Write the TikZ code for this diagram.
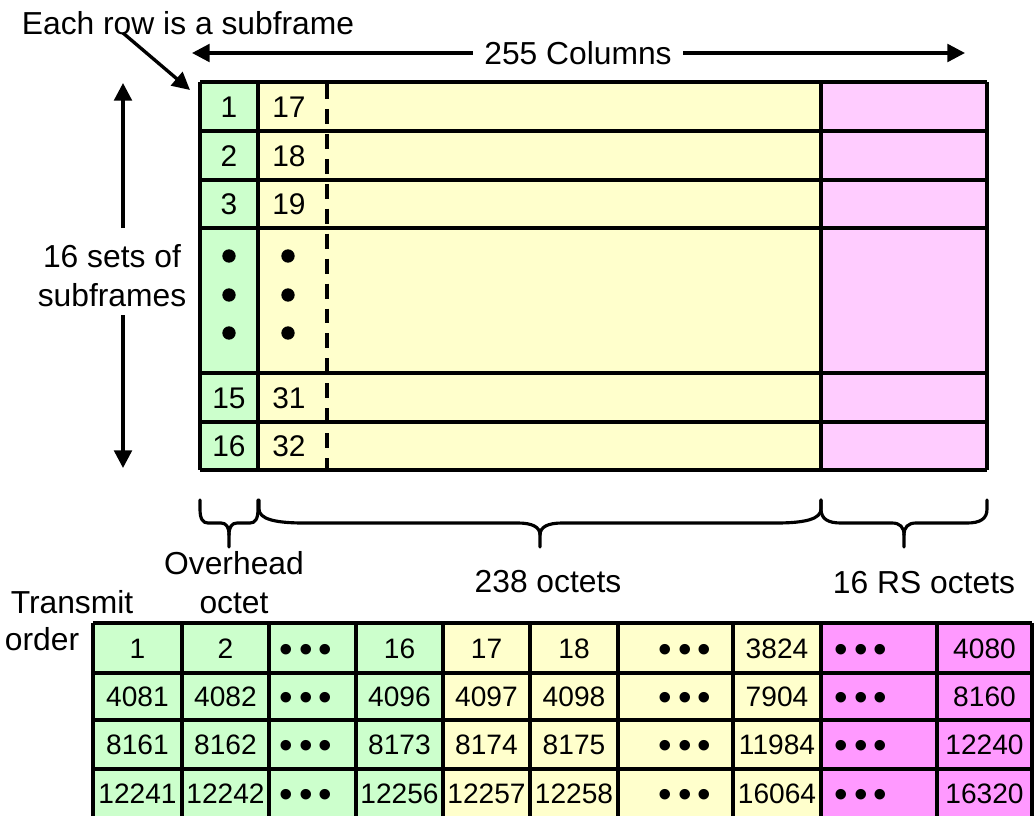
\documentclass[tikz,border=0pt]{standalone}
\usepackage{fontspec}
\setmainfont{Liberation Sans}
\usetikzlibrary{arrows.meta}
\definecolor{ohgreen}{HTML}{CCFFCC}
\definecolor{payyellow}{HTML}{FFFFCC}
\definecolor{rspink}{HTML}{FFCCFF}
\definecolor{rsmagenta}{HTML}{FF99FF}

% curly brace under the frame: left x, right x, end radius, tip radius
\newcommand{\octbrace}[4]{%
  \pgfmathsetmacro{\bracemid}{(#1+#2)/2}
  \draw[bracepath] (#1,500) -- (#1,509) .. controls (#1,519) and (#1+0.35*#3,523) .. (#1+#3,523)
    -- (\bracemid-#4,523) .. controls (\bracemid-0.35*#4,523) and (\bracemid,527) .. (\bracemid,535) -- (\bracemid,547);
  \draw[bracepath] (#2,500) -- (#2,509) .. controls (#2,519) and (#2-0.35*#3,523) .. (#2-#3,523)
    -- (\bracemid+#4,523) .. controls (\bracemid+0.35*#4,523) and (\bracemid,527) .. (\bracemid,535);
}
\newcommand{\threedots}{•\hspace{3.4pt}•\hspace{3.4pt}•}

\begin{document}
\begin{tikzpicture}[x=0.02cm, y=-0.02cm,
  gridline/.style={line width=2pt},
  bracepath/.style={line width=1.8pt, line cap=round},
  arr/.style={line width=1.9pt, -{Triangle[length=10pt,width=10pt]}},
  lbl/.style={font=\fontsize{18.1}{22}\selectfont, inner sep=0pt, align=center},
  topnum/.style={font=\fontsize{17}{17}\selectfont, inner sep=0pt, text height=12.2pt, text depth=0pt},
  cellnum/.style={font=\fontsize{16}{16}\selectfont, inner sep=0pt, text height=11.5pt, text depth=0pt},
  vdot/.style={circle, fill=black, inner sep=0pt, minimum size=7.6pt},
  celldots/.style={font=\fontsize{22}{22}\selectfont, inner sep=0pt}]
  \path[use as bounding box] (0,0) rectangle (1034,815);
  \clip (0,0) rectangle (1034,815);

  % subframe matrix
  \fill[ohgreen] (200,82) rectangle (258,470);
  \fill[payyellow] (258,82) rectangle (821,470);
  \fill[rspink] (821,82) rectangle (987,470);
  \foreach \y in {82,131,180,228,373,422,470}
    \draw[gridline] (200,\y) -- (987,\y);
  \foreach \x in {200,258,821,987}
    \draw[gridline] (\x,82) -- (\x,470);
  \draw[gridline, dash pattern=on 8.5pt off 5.7pt] (327,84) -- (327,470);

  \foreach \yc/\a/\b [count=\i] in {106.5/1/17, 155.5/2/18, 204/3/19, 397.5/15/31, 446/16/32} {
    \node[topnum] (oh\i) at (229,\yc) {\a};
    \node[topnum] (pl\i) at (289,\yc) {\b};
  }
  \foreach \yc [count=\i] in {256,295,333} {
    \node[vdot] (ohdot\i) at (229,\yc) {};
    \node[vdot] (pldot\i) at (288,\yc) {};
  }

  % labels and arrows
  \node[lbl] (note) at (188,23) {Each row is a subframe};
  \coordinate (notefrom) at (123,33);
  \coordinate (noteto) at (190,90);
  \draw[arr] (notefrom) -- (noteto);

  \node[lbl, inner xsep=6.5pt] (cols) at (578,53) {255 Columns};
  \coordinate (colsL) at (192,53);
  \coordinate (colsR) at (965,53);
  \draw[arr] (cols.west) -- (colsL);
  \draw[arr] (cols.east) -- (colsR);

  \node[lbl] (sets) at (112,275.5) {16 sets of\\subframes};
  \coordinate (setsT) at (123,83);
  \coordinate (setsB) at (123,468);
  \draw[arr] (setsT |- 0,228) -- (setsT);
  \draw[arr] (setsB |- 0,315) -- (setsB);

  % braces
  \octbrace{200}{258}{8}{8}
  \octbrace{259}{821}{45}{22}
  \octbrace{821}{987}{20}{12}
  \node[lbl] (overhead) at (234,582.5) {Overhead\\octet};
  \node[lbl] (payload) at (548,582) {238 octets};
  \node[lbl] (rs) at (924,583) {16 RS octets};
  \node[lbl] (transmit) at (72,602) {Transmit};
  \node[lbl] (order) at (42,639) {order};

  % transmit order table
  \fill[ohgreen] (93,623) rectangle (443,830);
  \fill[payyellow] (443,623) rectangle (821,830);
  \fill[rsmagenta] (821,623) rectangle (1032,830);
  \foreach \y in {623,673,720,769}
    \draw[gridline] (93,\y) -- (1032,\y);
  \foreach \x in {93,182,269,356,443,530,618,733,821,937,1032}
    \draw[gridline] (\x,623) -- (\x,830);

  \foreach \yc/\a/\b/\c/\d/\e/\f/\g [count=\i] in
    {648/1/2/16/17/18/3824/4080,
     696.5/4081/4082/4096/4097/4098/7904/8160,
     744.5/8161/8162/8173/8174/8175/11984/12240,
     793/12241/12242/12256/12257/12258/16064/16320} {
    \node[cellnum] (r\i-c1) at (137.5,\yc) {\a};
    \node[cellnum] (r\i-c2) at (225.5,\yc) {\b};
    \node[celldots] (r\i-c3) at (306,\yc+5) {\threedots};
    \node[cellnum] (r\i-c4) at (399.5,\yc) {\c};
    \node[cellnum] (r\i-c5) at (486.5,\yc) {\d};
    \node[cellnum] (r\i-c6) at (574,\yc) {\e};
    \node[celldots] (r\i-c7) at (685,\yc+5) {\threedots};
    \node[cellnum] (r\i-c8) at (777,\yc) {\f};
    \node[celldots] (r\i-c9) at (861,\yc+5) {\threedots};
    \node[cellnum] (r\i-c10) at (984.5,\yc) {\g};
  }
\end{tikzpicture}
\end{document}
